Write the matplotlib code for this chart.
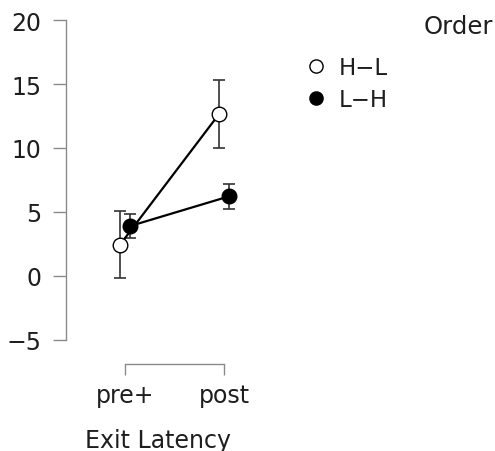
import matplotlib
matplotlib.use("Agg")
import matplotlib.pyplot as plt
from matplotlib.lines import Line2D
import numpy as np

# Data
categories = ["pre+", "post"]
groups = ["H−L", "L−H"]
means_hl = [2.45, 12.65]
err_hl = [2.62, 2.65]
means_lh = [3.9, 6.22]
err_lh = [0.92, 0.95]
yticks = [-5, 0, 5, 10, 15, 20]

plt.rcParams["font.family"] = ["DejaVu Sans"]

W, H = 495, 452
fig = plt.figure(figsize=(W / 100, H / 100), dpi=100)

# axes placed in pixel terms
left_px, right_px, top_px, bottom_px = 66, 250, 21, 341
ax = fig.add_axes([left_px / W, 1 - bottom_px / H,
                   (right_px - left_px) / W, (bottom_px - top_px) / H])

x = np.arange(len(categories))
dodge = 0.05
grey = "#8a8a8a"
ecol = "#333333"
txt = "#1e1e1e"

for means, errs, face, off in [(means_hl, err_hl, "white", -dodge),
                               (means_lh, err_lh, "black", dodge)]:
    xs = x + off
    ax.errorbar(xs, means, yerr=errs, fmt="none", ecolor=ecol,
                elinewidth=1.2, capsize=4.5, capthick=1.2, zorder=2)
    ax.plot(xs, means, color="black", lw=1.6, zorder=3)
    ax.plot(xs, means, "o", ms=10.5, mfc=face, mec="black", mew=1.0, zorder=4)

# category 0 sits at px 125, category 1 at px 224
ppu = 99.0
ax.set_xlim((left_px - 125) / ppu, (right_px - 125) / ppu)
ax.set_ylim(-5, 20)

ax.set_yticks(yticks)
ax.set_xticks(x)
ax.set_xticklabels(categories)

for s in ["top", "right"]:
    ax.spines[s].set_visible(False)
ax.spines["left"].set_color(grey)
ax.spines["left"].set_linewidth(1.0)
ax.spines["bottom"].set_color(grey)
ax.spines["bottom"].set_linewidth(1.0)
ax.spines["bottom"].set_position(("outward", 17))
ax.spines["bottom"].set_bounds(0, 1)

ax.tick_params(axis="y", length=9.5, width=1.0, color=grey, pad=8,
               labelsize=17, labelcolor=txt)
ax.tick_params(axis="x", length=8, width=1.0, color=grey, pad=6,
               labelsize=17, labelcolor=txt)
ax.set_xlabel("Exit Latency", fontsize=17, color=txt, labelpad=15)
ax.patch.set_visible(False)

# legend
handles = [Line2D([], [], ls="none", marker="o", ms=9.5, mfc="white", mec="black", mew=1.0),
           Line2D([], [], ls="none", marker="o", ms=9.5, mfc="black", mec="black", mew=1.0)]
leg = fig.legend(handles, groups, loc="upper left",
                 bbox_to_anchor=(307 / W, 1 - 57 / H), frameon=False,
                 fontsize=16.5, handlelength=0.8, handletextpad=0.6,
                 labelspacing=0.40, borderaxespad=0, borderpad=0)
for t in leg.get_texts():
    t.set_color(txt)
fig.text(493 / W, 1 - 27 / H, "Order", ha="right", va="center",
         fontsize=17.5, color=txt)

fig.savefig("out.png", dpi=100)
